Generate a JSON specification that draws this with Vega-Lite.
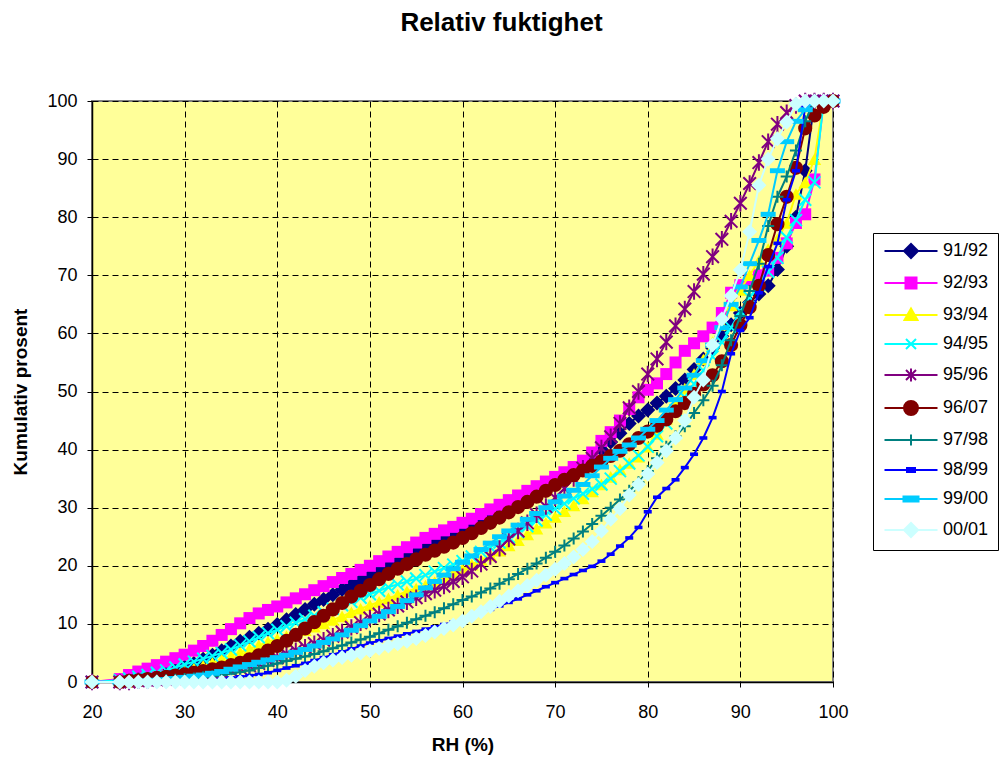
{
  "$schema": "https://vega.github.io/schema/vega-lite/v6.json",
  "width": 741,
  "height": 581,
  "autosize": "none",
  "padding": {"left": 92, "top": 101, "right": 170, "bottom": 78},
  "background": "white",
  "title": {
    "text": "Relativ fuktighet",
    "font": "Liberation Sans",
    "fontSize": 26,
    "fontWeight": "bold",
    "color": "#000000",
    "anchor": "middle",
    "frame": "group",
    "dx": 39,
    "offset": 53
  },
  "config": {
    "font": "Liberation Sans",
    "view": {"fill": "#FFFF99", "stroke": "#808080", "strokeWidth": 2},
    "axis": {
      "grid": true,
      "gridColor": "#000000",
      "gridDash": [6, 4],
      "gridOpacity": 1,
      "gridWidth": 1,
      "domainColor": "#000000",
      "domainWidth": 1.5,
      "tickColor": "#000000",
      "tickSize": 5,
      "tickWidth": 1,
      "labelColor": "#000000",
      "labelFont": "Liberation Sans",
      "labelFontSize": 18,
      "titleColor": "#000000",
      "titleFont": "Liberation Sans",
      "titleFontSize": 19,
      "titleFontWeight": "bold",
      "labelFlush": false,
      "labelOverlap": false
    }
  },
  "data": {
    "values": [
      {"s":"91/92","x":20,"y":0},{"s":"91/92","x":23,"y":0},{"s":"91/92","x":24,"y":0.2},{"s":"91/92","x":25,"y":0.4},{"s":"91/92","x":26,"y":0.7},{"s":"91/92","x":27,"y":1},{"s":"91/92","x":28,"y":1.5},{"s":"91/92","x":29,"y":2},{"s":"91/92","x":30,"y":2.6},{"s":"91/92","x":31,"y":3.2},{"s":"91/92","x":32,"y":3.9},{"s":"91/92","x":33,"y":4.6},{"s":"91/92","x":34,"y":5.4},{"s":"91/92","x":35,"y":6.2},{"s":"91/92","x":36,"y":7},{"s":"91/92","x":37,"y":7.7},{"s":"91/92","x":38,"y":8.4},{"s":"91/92","x":39,"y":9.1},{"s":"91/92","x":40,"y":9.9},{"s":"91/92","x":41,"y":10.7},{"s":"91/92","x":42,"y":11.6},{"s":"91/92","x":43,"y":12.5},{"s":"91/92","x":44,"y":13.4},{"s":"91/92","x":45,"y":14.2},{"s":"91/92","x":46,"y":15},{"s":"91/92","x":47,"y":15.9},{"s":"91/92","x":48,"y":16.7},{"s":"91/92","x":49,"y":17.5},{"s":"91/92","x":50,"y":18.3},{"s":"91/92","x":51,"y":19.1},{"s":"91/92","x":52,"y":19.9},{"s":"91/92","x":53,"y":20.7},{"s":"91/92","x":54,"y":21.5},{"s":"91/92","x":55,"y":22.3},{"s":"91/92","x":56,"y":23.1},{"s":"91/92","x":57,"y":23.9},{"s":"91/92","x":58,"y":24.7},{"s":"91/92","x":59,"y":25.4},{"s":"91/92","x":60,"y":26},{"s":"91/92","x":61,"y":26.7},{"s":"91/92","x":62,"y":27.4},{"s":"91/92","x":63,"y":28.2},{"s":"91/92","x":64,"y":29},{"s":"91/92","x":65,"y":29.8},{"s":"91/92","x":66,"y":30.6},{"s":"91/92","x":67,"y":31.5},{"s":"91/92","x":68,"y":32.5},{"s":"91/92","x":69,"y":33.5},{"s":"91/92","x":70,"y":34.5},{"s":"91/92","x":71,"y":35.5},{"s":"91/92","x":72,"y":36.5},{"s":"91/92","x":73,"y":37.6},{"s":"91/92","x":74,"y":38.8},{"s":"91/92","x":75,"y":40},{"s":"91/92","x":76,"y":41.3},{"s":"91/92","x":77,"y":42.8},{"s":"91/92","x":78,"y":44.5},{"s":"91/92","x":79,"y":45.8},{"s":"91/92","x":80,"y":46.8},{"s":"91/92","x":81,"y":48},{"s":"91/92","x":82,"y":49.2},{"s":"91/92","x":83,"y":50.5},{"s":"91/92","x":84,"y":52},{"s":"91/92","x":85,"y":53.8},{"s":"91/92","x":86,"y":55.6},{"s":"91/92","x":87,"y":57.5},{"s":"91/92","x":88,"y":59.5},{"s":"91/92","x":89,"y":61.5},{"s":"91/92","x":90,"y":63.5},{"s":"91/92","x":91,"y":65.3},{"s":"91/92","x":92,"y":66.8},{"s":"91/92","x":93,"y":68.2},{"s":"91/92","x":94,"y":71},{"s":"91/92","x":95,"y":75},{"s":"91/92","x":96,"y":80},{"s":"91/92","x":97,"y":88},{"s":"91/92","x":98,"y":100},{"s":"91/92","x":99,"y":100},{"s":"91/92","x":100,"y":100},

      {"s":"92/93","x":20,"y":0},{"s":"92/93","x":23,"y":0.5},{"s":"92/93","x":24,"y":1.2},{"s":"92/93","x":25,"y":1.8},{"s":"92/93","x":26,"y":2.3},{"s":"92/93","x":27,"y":2.9},{"s":"92/93","x":28,"y":3.5},{"s":"92/93","x":29,"y":4.1},{"s":"92/93","x":30,"y":4.7},{"s":"92/93","x":31,"y":5.4},{"s":"92/93","x":32,"y":6.2},{"s":"92/93","x":33,"y":7.1},{"s":"92/93","x":34,"y":8.1},{"s":"92/93","x":35,"y":9.1},{"s":"92/93","x":36,"y":10.1},{"s":"92/93","x":37,"y":11},{"s":"92/93","x":38,"y":11.8},{"s":"92/93","x":39,"y":12.4},{"s":"92/93","x":40,"y":13},{"s":"92/93","x":41,"y":13.7},{"s":"92/93","x":42,"y":14.4},{"s":"92/93","x":43,"y":15.1},{"s":"92/93","x":44,"y":15.8},{"s":"92/93","x":45,"y":16.5},{"s":"92/93","x":46,"y":17.2},{"s":"92/93","x":47,"y":17.9},{"s":"92/93","x":48,"y":18.6},{"s":"92/93","x":49,"y":19.3},{"s":"92/93","x":50,"y":20},{"s":"92/93","x":51,"y":20.8},{"s":"92/93","x":52,"y":21.6},{"s":"92/93","x":53,"y":22.4},{"s":"92/93","x":54,"y":23.2},{"s":"92/93","x":55,"y":24},{"s":"92/93","x":56,"y":24.8},{"s":"92/93","x":57,"y":25.5},{"s":"92/93","x":58,"y":26.1},{"s":"92/93","x":59,"y":26.7},{"s":"92/93","x":60,"y":27.4},{"s":"92/93","x":61,"y":28.1},{"s":"92/93","x":62,"y":28.9},{"s":"92/93","x":63,"y":29.7},{"s":"92/93","x":64,"y":30.5},{"s":"92/93","x":65,"y":31.3},{"s":"92/93","x":66,"y":32.1},{"s":"92/93","x":67,"y":32.9},{"s":"92/93","x":68,"y":33.7},{"s":"92/93","x":69,"y":34.5},{"s":"92/93","x":70,"y":35.3},{"s":"92/93","x":71,"y":36.1},{"s":"92/93","x":72,"y":37},{"s":"92/93","x":73,"y":38.1},{"s":"92/93","x":74,"y":39.5},{"s":"92/93","x":75,"y":41.5},{"s":"92/93","x":76,"y":43},{"s":"92/93","x":77,"y":45},{"s":"92/93","x":78,"y":47},{"s":"92/93","x":79,"y":49},{"s":"92/93","x":80,"y":50.3},{"s":"92/93","x":81,"y":51.4},{"s":"92/93","x":82,"y":53},{"s":"92/93","x":83,"y":55},{"s":"92/93","x":84,"y":57},{"s":"92/93","x":85,"y":58.3},{"s":"92/93","x":86,"y":59.5},{"s":"92/93","x":87,"y":61},{"s":"92/93","x":88,"y":63.5},{"s":"92/93","x":89,"y":67},{"s":"92/93","x":90,"y":68.3},{"s":"92/93","x":91,"y":69.2},{"s":"92/93","x":92,"y":70},{"s":"92/93","x":93,"y":70.8},{"s":"92/93","x":94,"y":73},{"s":"92/93","x":95,"y":75.5},{"s":"92/93","x":96,"y":79},{"s":"92/93","x":97,"y":80.5},{"s":"92/93","x":98,"y":86.5},{"s":"92/93","x":99,"y":100},{"s":"92/93","x":100,"y":100},

      {"s":"93/94","x":20,"y":0},{"s":"93/94","x":23,"y":0},{"s":"93/94","x":24,"y":0},{"s":"93/94","x":25,"y":0.2},{"s":"93/94","x":26,"y":0.4},{"s":"93/94","x":27,"y":0.7},{"s":"93/94","x":28,"y":1},{"s":"93/94","x":29,"y":1.4},{"s":"93/94","x":30,"y":1.8},{"s":"93/94","x":31,"y":2.3},{"s":"93/94","x":32,"y":2.8},{"s":"93/94","x":33,"y":3.3},{"s":"93/94","x":34,"y":3.9},{"s":"93/94","x":35,"y":4.5},{"s":"93/94","x":36,"y":5.1},{"s":"93/94","x":37,"y":5.7},{"s":"93/94","x":38,"y":6.3},{"s":"93/94","x":39,"y":6.9},{"s":"93/94","x":40,"y":7.4},{"s":"93/94","x":41,"y":7.9},{"s":"93/94","x":42,"y":8.4},{"s":"93/94","x":43,"y":8.9},{"s":"93/94","x":44,"y":9.5},{"s":"93/94","x":45,"y":10.1},{"s":"93/94","x":46,"y":10.7},{"s":"93/94","x":47,"y":11.3},{"s":"93/94","x":48,"y":12},{"s":"93/94","x":49,"y":12.6},{"s":"93/94","x":50,"y":13.2},{"s":"93/94","x":51,"y":13.8},{"s":"93/94","x":52,"y":14.4},{"s":"93/94","x":53,"y":15},{"s":"93/94","x":54,"y":15.6},{"s":"93/94","x":55,"y":16.1},{"s":"93/94","x":56,"y":16.6},{"s":"93/94","x":57,"y":17.2},{"s":"93/94","x":58,"y":17.9},{"s":"93/94","x":59,"y":18.6},{"s":"93/94","x":60,"y":19.4},{"s":"93/94","x":61,"y":20.2},{"s":"93/94","x":62,"y":21},{"s":"93/94","x":63,"y":21.8},{"s":"93/94","x":64,"y":22.6},{"s":"93/94","x":65,"y":23.5},{"s":"93/94","x":66,"y":24.4},{"s":"93/94","x":67,"y":25.4},{"s":"93/94","x":68,"y":26.4},{"s":"93/94","x":69,"y":27.4},{"s":"93/94","x":70,"y":28.4},{"s":"93/94","x":71,"y":29.4},{"s":"93/94","x":72,"y":30.4},{"s":"93/94","x":73,"y":31.6},{"s":"93/94","x":74,"y":32.8},{"s":"93/94","x":75,"y":34},{"s":"93/94","x":76,"y":35.3},{"s":"93/94","x":77,"y":36.6},{"s":"93/94","x":78,"y":37.7},{"s":"93/94","x":79,"y":38.8},{"s":"93/94","x":80,"y":40.5},{"s":"93/94","x":81,"y":42.7},{"s":"93/94","x":82,"y":45.3},{"s":"93/94","x":83,"y":48},{"s":"93/94","x":84,"y":50.5},{"s":"93/94","x":85,"y":53},{"s":"93/94","x":86,"y":55.5},{"s":"93/94","x":87,"y":58.5},{"s":"93/94","x":88,"y":61.5},{"s":"93/94","x":89,"y":64.8},{"s":"93/94","x":90,"y":67.5},{"s":"93/94","x":91,"y":70},{"s":"93/94","x":92,"y":72.5},{"s":"93/94","x":93,"y":74.5},{"s":"93/94","x":94,"y":76.2},{"s":"93/94","x":95,"y":79},{"s":"93/94","x":96,"y":84},{"s":"93/94","x":97,"y":86},{"s":"93/94","x":98,"y":90},{"s":"93/94","x":99,"y":100},{"s":"93/94","x":100,"y":100},

      {"s":"94/95","x":20,"y":0},{"s":"94/95","x":23,"y":0.3},{"s":"94/95","x":24,"y":0.6},{"s":"94/95","x":25,"y":0.9},{"s":"94/95","x":26,"y":1.2},{"s":"94/95","x":27,"y":1.6},{"s":"94/95","x":28,"y":2},{"s":"94/95","x":29,"y":2.5},{"s":"94/95","x":30,"y":3},{"s":"94/95","x":31,"y":3.5},{"s":"94/95","x":32,"y":4},{"s":"94/95","x":33,"y":4.5},{"s":"94/95","x":34,"y":5},{"s":"94/95","x":35,"y":5.6},{"s":"94/95","x":36,"y":6.3},{"s":"94/95","x":37,"y":7},{"s":"94/95","x":38,"y":7.7},{"s":"94/95","x":39,"y":8.4},{"s":"94/95","x":40,"y":9},{"s":"94/95","x":41,"y":9.6},{"s":"94/95","x":42,"y":10.2},{"s":"94/95","x":43,"y":10.8},{"s":"94/95","x":44,"y":11.4},{"s":"94/95","x":45,"y":12},{"s":"94/95","x":46,"y":12.6},{"s":"94/95","x":47,"y":13.2},{"s":"94/95","x":48,"y":13.8},{"s":"94/95","x":49,"y":14.5},{"s":"94/95","x":50,"y":15.1},{"s":"94/95","x":51,"y":15.7},{"s":"94/95","x":52,"y":16.3},{"s":"94/95","x":53,"y":16.8},{"s":"94/95","x":54,"y":17.3},{"s":"94/95","x":55,"y":17.8},{"s":"94/95","x":56,"y":18.4},{"s":"94/95","x":57,"y":19},{"s":"94/95","x":58,"y":19.6},{"s":"94/95","x":59,"y":20.2},{"s":"94/95","x":60,"y":20.8},{"s":"94/95","x":61,"y":21.6},{"s":"94/95","x":62,"y":22.4},{"s":"94/95","x":63,"y":23.2},{"s":"94/95","x":64,"y":24},{"s":"94/95","x":65,"y":24.9},{"s":"94/95","x":66,"y":25.8},{"s":"94/95","x":67,"y":26.8},{"s":"94/95","x":68,"y":27.8},{"s":"94/95","x":69,"y":28.8},{"s":"94/95","x":70,"y":29.8},{"s":"94/95","x":71,"y":30.7},{"s":"94/95","x":72,"y":31.6},{"s":"94/95","x":73,"y":32.4},{"s":"94/95","x":74,"y":33.2},{"s":"94/95","x":75,"y":34},{"s":"94/95","x":76,"y":35},{"s":"94/95","x":77,"y":36.3},{"s":"94/95","x":78,"y":37.6},{"s":"94/95","x":79,"y":39},{"s":"94/95","x":80,"y":40.5},{"s":"94/95","x":81,"y":42.3},{"s":"94/95","x":82,"y":44.5},{"s":"94/95","x":83,"y":46.8},{"s":"94/95","x":84,"y":49},{"s":"94/95","x":85,"y":51.3},{"s":"94/95","x":86,"y":53.6},{"s":"94/95","x":87,"y":56},{"s":"94/95","x":88,"y":58.5},{"s":"94/95","x":89,"y":61},{"s":"94/95","x":90,"y":63.8},{"s":"94/95","x":91,"y":66.2},{"s":"94/95","x":92,"y":68.4},{"s":"94/95","x":93,"y":70.6},{"s":"94/95","x":94,"y":73},{"s":"94/95","x":95,"y":76.5},{"s":"94/95","x":96,"y":79.5},{"s":"94/95","x":97,"y":83},{"s":"94/95","x":98,"y":86},{"s":"94/95","x":99,"y":100},{"s":"94/95","x":100,"y":100},

      {"s":"95/96","x":20,"y":0},{"s":"95/96","x":23,"y":0},{"s":"95/96","x":24,"y":0},{"s":"95/96","x":25,"y":0.2},{"s":"95/96","x":26,"y":0.3},{"s":"95/96","x":27,"y":0.4},{"s":"95/96","x":28,"y":0.5},{"s":"95/96","x":29,"y":0.6},{"s":"95/96","x":30,"y":0.8},{"s":"95/96","x":31,"y":1},{"s":"95/96","x":32,"y":1.2},{"s":"95/96","x":33,"y":1.4},{"s":"95/96","x":34,"y":1.7},{"s":"95/96","x":35,"y":2},{"s":"95/96","x":36,"y":2.4},{"s":"95/96","x":37,"y":2.8},{"s":"95/96","x":38,"y":3.2},{"s":"95/96","x":39,"y":3.7},{"s":"95/96","x":40,"y":4.2},{"s":"95/96","x":41,"y":4.8},{"s":"95/96","x":42,"y":5.4},{"s":"95/96","x":43,"y":6},{"s":"95/96","x":44,"y":6.6},{"s":"95/96","x":45,"y":7.2},{"s":"95/96","x":46,"y":7.9},{"s":"95/96","x":47,"y":8.6},{"s":"95/96","x":48,"y":9.4},{"s":"95/96","x":49,"y":10.2},{"s":"95/96","x":50,"y":11},{"s":"95/96","x":51,"y":11.7},{"s":"95/96","x":52,"y":12.4},{"s":"95/96","x":53,"y":13.1},{"s":"95/96","x":54,"y":13.8},{"s":"95/96","x":55,"y":14.5},{"s":"95/96","x":56,"y":15.2},{"s":"95/96","x":57,"y":15.8},{"s":"95/96","x":58,"y":16.5},{"s":"95/96","x":59,"y":17.3},{"s":"95/96","x":60,"y":18.1},{"s":"95/96","x":61,"y":19.1},{"s":"95/96","x":62,"y":20.3},{"s":"95/96","x":63,"y":21.6},{"s":"95/96","x":64,"y":23},{"s":"95/96","x":65,"y":24.6},{"s":"95/96","x":66,"y":26},{"s":"95/96","x":67,"y":27.4},{"s":"95/96","x":68,"y":28.8},{"s":"95/96","x":69,"y":30.2},{"s":"95/96","x":70,"y":31.7},{"s":"95/96","x":71,"y":33.3},{"s":"95/96","x":72,"y":35},{"s":"95/96","x":73,"y":36.8},{"s":"95/96","x":74,"y":38.5},{"s":"95/96","x":75,"y":40.3},{"s":"95/96","x":76,"y":42.2},{"s":"95/96","x":77,"y":44.5},{"s":"95/96","x":78,"y":47.2},{"s":"95/96","x":79,"y":50},{"s":"95/96","x":80,"y":53},{"s":"95/96","x":81,"y":55.6},{"s":"95/96","x":82,"y":58.5},{"s":"95/96","x":83,"y":61.3},{"s":"95/96","x":84,"y":64.2},{"s":"95/96","x":85,"y":67.2},{"s":"95/96","x":86,"y":70.2},{"s":"95/96","x":87,"y":73.2},{"s":"95/96","x":88,"y":76.2},{"s":"95/96","x":89,"y":79.3},{"s":"95/96","x":90,"y":82.4},{"s":"95/96","x":91,"y":85.8},{"s":"95/96","x":92,"y":89.4},{"s":"95/96","x":93,"y":93},{"s":"95/96","x":94,"y":96},{"s":"95/96","x":95,"y":98},{"s":"95/96","x":96,"y":99.2},{"s":"95/96","x":97,"y":100},{"s":"95/96","x":98,"y":100},{"s":"95/96","x":99,"y":100},{"s":"95/96","x":100,"y":100},

      {"s":"96/07","x":20,"y":0},{"s":"96/07","x":23,"y":0},{"s":"96/07","x":24,"y":0.2},{"s":"96/07","x":25,"y":0.3},{"s":"96/07","x":26,"y":0.5},{"s":"96/07","x":27,"y":0.7},{"s":"96/07","x":28,"y":0.9},{"s":"96/07","x":29,"y":1.1},{"s":"96/07","x":30,"y":1.3},{"s":"96/07","x":31,"y":1.6},{"s":"96/07","x":32,"y":1.9},{"s":"96/07","x":33,"y":2.2},{"s":"96/07","x":34,"y":2.5},{"s":"96/07","x":35,"y":2.9},{"s":"96/07","x":36,"y":3.3},{"s":"96/07","x":37,"y":3.9},{"s":"96/07","x":38,"y":4.6},{"s":"96/07","x":39,"y":5.4},{"s":"96/07","x":40,"y":6.2},{"s":"96/07","x":41,"y":7.1},{"s":"96/07","x":42,"y":8.1},{"s":"96/07","x":43,"y":9.2},{"s":"96/07","x":44,"y":10.3},{"s":"96/07","x":45,"y":11.4},{"s":"96/07","x":46,"y":12.5},{"s":"96/07","x":47,"y":13.6},{"s":"96/07","x":48,"y":14.7},{"s":"96/07","x":49,"y":15.7},{"s":"96/07","x":50,"y":16.7},{"s":"96/07","x":51,"y":17.7},{"s":"96/07","x":52,"y":18.6},{"s":"96/07","x":53,"y":19.5},{"s":"96/07","x":54,"y":20.3},{"s":"96/07","x":55,"y":21.1},{"s":"96/07","x":56,"y":21.9},{"s":"96/07","x":57,"y":22.6},{"s":"96/07","x":58,"y":23.3},{"s":"96/07","x":59,"y":24},{"s":"96/07","x":60,"y":24.8},{"s":"96/07","x":61,"y":25.6},{"s":"96/07","x":62,"y":26.5},{"s":"96/07","x":63,"y":27.4},{"s":"96/07","x":64,"y":28.3},{"s":"96/07","x":65,"y":29.2},{"s":"96/07","x":66,"y":30.1},{"s":"96/07","x":67,"y":31},{"s":"96/07","x":68,"y":31.9},{"s":"96/07","x":69,"y":32.9},{"s":"96/07","x":70,"y":33.9},{"s":"96/07","x":71,"y":34.8},{"s":"96/07","x":72,"y":35.6},{"s":"96/07","x":73,"y":36.4},{"s":"96/07","x":74,"y":37.2},{"s":"96/07","x":75,"y":38},{"s":"96/07","x":76,"y":38.9},{"s":"96/07","x":77,"y":39.8},{"s":"96/07","x":78,"y":40.9},{"s":"96/07","x":79,"y":42},{"s":"96/07","x":80,"y":43.1},{"s":"96/07","x":81,"y":44.1},{"s":"96/07","x":82,"y":45.2},{"s":"96/07","x":83,"y":46.6},{"s":"96/07","x":84,"y":48},{"s":"96/07","x":85,"y":49.6},{"s":"96/07","x":86,"y":51.2},{"s":"96/07","x":87,"y":52.8},{"s":"96/07","x":88,"y":55.2},{"s":"96/07","x":89,"y":58},{"s":"96/07","x":90,"y":61.4},{"s":"96/07","x":91,"y":64.5},{"s":"96/07","x":92,"y":68.2},{"s":"96/07","x":93,"y":73.5},{"s":"96/07","x":94,"y":78.8},{"s":"96/07","x":95,"y":83.5},{"s":"96/07","x":96,"y":88.5},{"s":"96/07","x":97,"y":95.3},{"s":"96/07","x":98,"y":97.5},{"s":"96/07","x":99,"y":99},{"s":"96/07","x":100,"y":100},

      {"s":"97/98","x":20,"y":0},{"s":"97/98","x":23,"y":0},{"s":"97/98","x":24,"y":0},{"s":"97/98","x":25,"y":0},{"s":"97/98","x":26,"y":0.1},{"s":"97/98","x":27,"y":0.2},{"s":"97/98","x":28,"y":0.3},{"s":"97/98","x":29,"y":0.4},{"s":"97/98","x":30,"y":0.5},{"s":"97/98","x":31,"y":0.6},{"s":"97/98","x":32,"y":0.8},{"s":"97/98","x":33,"y":1},{"s":"97/98","x":34,"y":1.2},{"s":"97/98","x":35,"y":1.4},{"s":"97/98","x":36,"y":1.7},{"s":"97/98","x":37,"y":2},{"s":"97/98","x":38,"y":2.4},{"s":"97/98","x":39,"y":2.8},{"s":"97/98","x":40,"y":3.2},{"s":"97/98","x":41,"y":3.6},{"s":"97/98","x":42,"y":4},{"s":"97/98","x":43,"y":4.4},{"s":"97/98","x":44,"y":4.8},{"s":"97/98","x":45,"y":5.3},{"s":"97/98","x":46,"y":5.8},{"s":"97/98","x":47,"y":6.3},{"s":"97/98","x":48,"y":6.8},{"s":"97/98","x":49,"y":7.3},{"s":"97/98","x":50,"y":7.8},{"s":"97/98","x":51,"y":8.4},{"s":"97/98","x":52,"y":9},{"s":"97/98","x":53,"y":9.6},{"s":"97/98","x":54,"y":10.2},{"s":"97/98","x":55,"y":10.8},{"s":"97/98","x":56,"y":11.4},{"s":"97/98","x":57,"y":12},{"s":"97/98","x":58,"y":12.7},{"s":"97/98","x":59,"y":13.4},{"s":"97/98","x":60,"y":14.1},{"s":"97/98","x":61,"y":14.7},{"s":"97/98","x":62,"y":15.4},{"s":"97/98","x":63,"y":16.1},{"s":"97/98","x":64,"y":16.9},{"s":"97/98","x":65,"y":17.7},{"s":"97/98","x":66,"y":18.6},{"s":"97/98","x":67,"y":19.5},{"s":"97/98","x":68,"y":20.4},{"s":"97/98","x":69,"y":21.4},{"s":"97/98","x":70,"y":22.4},{"s":"97/98","x":71,"y":23.5},{"s":"97/98","x":72,"y":24.7},{"s":"97/98","x":73,"y":25.9},{"s":"97/98","x":74,"y":27.2},{"s":"97/98","x":75,"y":28.6},{"s":"97/98","x":76,"y":30},{"s":"97/98","x":77,"y":31.4},{"s":"97/98","x":78,"y":32.9},{"s":"97/98","x":79,"y":34.4},{"s":"97/98","x":80,"y":36.3},{"s":"97/98","x":81,"y":38.5},{"s":"97/98","x":82,"y":40.5},{"s":"97/98","x":83,"y":42.3},{"s":"97/98","x":84,"y":44},{"s":"97/98","x":85,"y":46.3},{"s":"97/98","x":86,"y":48.5},{"s":"97/98","x":87,"y":51},{"s":"97/98","x":88,"y":54.5},{"s":"97/98","x":89,"y":58.8},{"s":"97/98","x":90,"y":63},{"s":"97/98","x":91,"y":67.3},{"s":"97/98","x":92,"y":72},{"s":"97/98","x":93,"y":78.5},{"s":"97/98","x":94,"y":83.5},{"s":"97/98","x":95,"y":87},{"s":"97/98","x":96,"y":91.5},{"s":"97/98","x":97,"y":96.5},{"s":"97/98","x":98,"y":100},{"s":"97/98","x":99,"y":100},{"s":"97/98","x":100,"y":100},

      {"s":"98/99","x":20,"y":0},{"s":"98/99","x":23,"y":0},{"s":"98/99","x":24,"y":0},{"s":"98/99","x":25,"y":0},{"s":"98/99","x":26,"y":0},{"s":"98/99","x":27,"y":0},{"s":"98/99","x":28,"y":0},{"s":"98/99","x":29,"y":0},{"s":"98/99","x":30,"y":0},{"s":"98/99","x":31,"y":0.1},{"s":"98/99","x":32,"y":0.2},{"s":"98/99","x":33,"y":0.3},{"s":"98/99","x":34,"y":0.5},{"s":"98/99","x":35,"y":0.7},{"s":"98/99","x":36,"y":0.9},{"s":"98/99","x":37,"y":1.1},{"s":"98/99","x":38,"y":1.3},{"s":"98/99","x":39,"y":1.6},{"s":"98/99","x":40,"y":2},{"s":"98/99","x":41,"y":2.4},{"s":"98/99","x":42,"y":2.8},{"s":"98/99","x":43,"y":3.2},{"s":"98/99","x":44,"y":3.7},{"s":"98/99","x":45,"y":4.2},{"s":"98/99","x":46,"y":4.7},{"s":"98/99","x":47,"y":5.2},{"s":"98/99","x":48,"y":5.7},{"s":"98/99","x":49,"y":6.2},{"s":"98/99","x":50,"y":6.7},{"s":"98/99","x":51,"y":7.1},{"s":"98/99","x":52,"y":7.5},{"s":"98/99","x":53,"y":7.9},{"s":"98/99","x":54,"y":8.3},{"s":"98/99","x":55,"y":8.7},{"s":"98/99","x":56,"y":9.1},{"s":"98/99","x":57,"y":9.5},{"s":"98/99","x":58,"y":9.9},{"s":"98/99","x":59,"y":10.3},{"s":"98/99","x":60,"y":10.7},{"s":"98/99","x":61,"y":11.3},{"s":"98/99","x":62,"y":11.9},{"s":"98/99","x":63,"y":12.5},{"s":"98/99","x":64,"y":13.1},{"s":"98/99","x":65,"y":13.7},{"s":"98/99","x":66,"y":14.3},{"s":"98/99","x":67,"y":15},{"s":"98/99","x":68,"y":15.7},{"s":"98/99","x":69,"y":16.4},{"s":"98/99","x":70,"y":17.1},{"s":"98/99","x":71,"y":17.8},{"s":"98/99","x":72,"y":18.5},{"s":"98/99","x":73,"y":19.2},{"s":"98/99","x":74,"y":19.9},{"s":"98/99","x":75,"y":20.8},{"s":"98/99","x":76,"y":22},{"s":"98/99","x":77,"y":23.4},{"s":"98/99","x":78,"y":24.8},{"s":"98/99","x":79,"y":26.6},{"s":"98/99","x":80,"y":29.3},{"s":"98/99","x":81,"y":31.8},{"s":"98/99","x":82,"y":33.3},{"s":"98/99","x":83,"y":34.8},{"s":"98/99","x":84,"y":36.9},{"s":"98/99","x":85,"y":39.2},{"s":"98/99","x":86,"y":42},{"s":"98/99","x":87,"y":45.5},{"s":"98/99","x":88,"y":50},{"s":"98/99","x":89,"y":56.5},{"s":"98/99","x":90,"y":60.5},{"s":"98/99","x":91,"y":62.7},{"s":"98/99","x":92,"y":67},{"s":"98/99","x":93,"y":71.5},{"s":"98/99","x":94,"y":75.5},{"s":"98/99","x":95,"y":83},{"s":"98/99","x":96,"y":88},{"s":"98/99","x":97,"y":99},{"s":"98/99","x":98,"y":100},{"s":"98/99","x":99,"y":100},{"s":"98/99","x":100,"y":100},

      {"s":"99/00","x":20,"y":0},{"s":"99/00","x":23,"y":0},{"s":"99/00","x":24,"y":0},{"s":"99/00","x":25,"y":0.1},{"s":"99/00","x":26,"y":0.2},{"s":"99/00","x":27,"y":0.3},{"s":"99/00","x":28,"y":0.4},{"s":"99/00","x":29,"y":0.6},{"s":"99/00","x":30,"y":0.8},{"s":"99/00","x":31,"y":1},{"s":"99/00","x":32,"y":1.2},{"s":"99/00","x":33,"y":1.5},{"s":"99/00","x":34,"y":1.8},{"s":"99/00","x":35,"y":2.2},{"s":"99/00","x":36,"y":2.6},{"s":"99/00","x":37,"y":3},{"s":"99/00","x":38,"y":3.4},{"s":"99/00","x":39,"y":3.8},{"s":"99/00","x":40,"y":4.2},{"s":"99/00","x":41,"y":4.6},{"s":"99/00","x":42,"y":5.1},{"s":"99/00","x":43,"y":5.6},{"s":"99/00","x":44,"y":6.2},{"s":"99/00","x":45,"y":6.8},{"s":"99/00","x":46,"y":7.4},{"s":"99/00","x":47,"y":8.1},{"s":"99/00","x":48,"y":8.9},{"s":"99/00","x":49,"y":9.7},{"s":"99/00","x":50,"y":10.5},{"s":"99/00","x":51,"y":11.3},{"s":"99/00","x":52,"y":12.1},{"s":"99/00","x":53,"y":13},{"s":"99/00","x":54,"y":14},{"s":"99/00","x":55,"y":15},{"s":"99/00","x":56,"y":16.2},{"s":"99/00","x":57,"y":17.3},{"s":"99/00","x":58,"y":18.4},{"s":"99/00","x":59,"y":19.5},{"s":"99/00","x":60,"y":20.6},{"s":"99/00","x":61,"y":21.7},{"s":"99/00","x":62,"y":22.8},{"s":"99/00","x":63,"y":23.9},{"s":"99/00","x":64,"y":25},{"s":"99/00","x":65,"y":26},{"s":"99/00","x":66,"y":27},{"s":"99/00","x":67,"y":28},{"s":"99/00","x":68,"y":29},{"s":"99/00","x":69,"y":30},{"s":"99/00","x":70,"y":31},{"s":"99/00","x":71,"y":32},{"s":"99/00","x":72,"y":33},{"s":"99/00","x":73,"y":34},{"s":"99/00","x":74,"y":35.5},{"s":"99/00","x":75,"y":37},{"s":"99/00","x":76,"y":38.5},{"s":"99/00","x":77,"y":39.7},{"s":"99/00","x":78,"y":40.8},{"s":"99/00","x":79,"y":42},{"s":"99/00","x":80,"y":43.5},{"s":"99/00","x":81,"y":45},{"s":"99/00","x":82,"y":46.8},{"s":"99/00","x":83,"y":48.6},{"s":"99/00","x":84,"y":50.6},{"s":"99/00","x":85,"y":52.8},{"s":"99/00","x":86,"y":55.3},{"s":"99/00","x":87,"y":58},{"s":"99/00","x":88,"y":61},{"s":"99/00","x":89,"y":65},{"s":"99/00","x":90,"y":68},{"s":"99/00","x":91,"y":72},{"s":"99/00","x":92,"y":76},{"s":"99/00","x":93,"y":80.5},{"s":"99/00","x":94,"y":88},{"s":"99/00","x":95,"y":93},{"s":"99/00","x":96,"y":96.5},{"s":"99/00","x":97,"y":98.5},{"s":"99/00","x":98,"y":100},{"s":"99/00","x":99,"y":100},{"s":"99/00","x":100,"y":100},

      {"s":"00/01","x":20,"y":0},{"s":"00/01","x":23,"y":0},{"s":"00/01","x":24,"y":0},{"s":"00/01","x":25,"y":0},{"s":"00/01","x":26,"y":0},{"s":"00/01","x":27,"y":0},{"s":"00/01","x":28,"y":0},{"s":"00/01","x":29,"y":0},{"s":"00/01","x":30,"y":0},{"s":"00/01","x":31,"y":0},{"s":"00/01","x":32,"y":0},{"s":"00/01","x":33,"y":0},{"s":"00/01","x":34,"y":0},{"s":"00/01","x":35,"y":0},{"s":"00/01","x":36,"y":0},{"s":"00/01","x":37,"y":0},{"s":"00/01","x":38,"y":0},{"s":"00/01","x":39,"y":0},{"s":"00/01","x":40,"y":0},{"s":"00/01","x":41,"y":0.3},{"s":"00/01","x":42,"y":1},{"s":"00/01","x":43,"y":2},{"s":"00/01","x":44,"y":2.7},{"s":"00/01","x":45,"y":3.3},{"s":"00/01","x":46,"y":3.8},{"s":"00/01","x":47,"y":4.2},{"s":"00/01","x":48,"y":4.6},{"s":"00/01","x":49,"y":5},{"s":"00/01","x":50,"y":5.4},{"s":"00/01","x":51,"y":5.8},{"s":"00/01","x":52,"y":6.2},{"s":"00/01","x":53,"y":6.6},{"s":"00/01","x":54,"y":7},{"s":"00/01","x":55,"y":7.5},{"s":"00/01","x":56,"y":8},{"s":"00/01","x":57,"y":8.6},{"s":"00/01","x":58,"y":9.2},{"s":"00/01","x":59,"y":9.8},{"s":"00/01","x":60,"y":10.5},{"s":"00/01","x":61,"y":11.3},{"s":"00/01","x":62,"y":12.1},{"s":"00/01","x":63,"y":13},{"s":"00/01","x":64,"y":13.9},{"s":"00/01","x":65,"y":14.8},{"s":"00/01","x":66,"y":15.7},{"s":"00/01","x":67,"y":16.6},{"s":"00/01","x":68,"y":17.5},{"s":"00/01","x":69,"y":18.4},{"s":"00/01","x":70,"y":19.4},{"s":"00/01","x":71,"y":20.4},{"s":"00/01","x":72,"y":21.5},{"s":"00/01","x":73,"y":22.8},{"s":"00/01","x":74,"y":24.2},{"s":"00/01","x":75,"y":26},{"s":"00/01","x":76,"y":28},{"s":"00/01","x":77,"y":29.8},{"s":"00/01","x":78,"y":32.2},{"s":"00/01","x":79,"y":34},{"s":"00/01","x":80,"y":35.8},{"s":"00/01","x":81,"y":37.8},{"s":"00/01","x":82,"y":39.8},{"s":"00/01","x":83,"y":42},{"s":"00/01","x":84,"y":45},{"s":"00/01","x":85,"y":49},{"s":"00/01","x":86,"y":52},{"s":"00/01","x":87,"y":58},{"s":"00/01","x":88,"y":62.5},{"s":"00/01","x":89,"y":66.5},{"s":"00/01","x":90,"y":70.9},{"s":"00/01","x":91,"y":77.5},{"s":"00/01","x":92,"y":85.5},{"s":"00/01","x":93,"y":90},{"s":"00/01","x":94,"y":93.5},{"s":"00/01","x":95,"y":96.4},{"s":"00/01","x":96,"y":99.5},{"s":"00/01","x":97,"y":100},{"s":"00/01","x":98,"y":100},{"s":"00/01","x":99,"y":100},{"s":"00/01","x":100,"y":100}
    ]
  },
  "encoding": {
    "x": {
      "field": "x",
      "type": "quantitative",
      "scale": {"domain": [20, 100], "nice": false, "zero": false},
      "axis": {"values": [20, 30, 40, 50, 60, 70, 80, 90, 100], "title": "RH (%)", "labelPadding": 16, "titlePadding": 14}
    },
    "y": {
      "field": "y",
      "type": "quantitative",
      "scale": {"domain": [0, 100], "nice": false},
      "axis": {"values": [0, 10, 20, 30, 40, 50, 60, 70, 80, 90, 100], "title": "Kumulativ prosent", "labelPadding": 10, "titlePadding": 16}
    },
    "color": {
      "field": "s",
      "type": "nominal",
      "scale": {
        "domain": ["91/92", "92/93", "93/94", "94/95", "95/96", "96/07", "97/98", "98/99", "99/00", "00/01"],
        "range": ["#000080", "#FF00FF", "#FFFF00", "#00FFFF", "#800080", "#800000", "#008080", "#0000FF", "#00CCFF", "#CCFFFF"]
      },
      "legend": {
        "title": null,
        "orient": "none",
        "legendX": 781,
        "legendY": 132,
        "padding": 9,
        "strokeColor": "#000000",
        "fillColor": "#FFFFFF",
        "symbolSize": 100,
        "symbolStrokeWidth": 2,
        "symbolOffset": 20,
        "labelOffset": 23,
        "rowPadding": 11,
        "labelFont": "Liberation Sans",
        "labelFontSize": 18,
        "labelColor": "#000000",
        "encode": {
          "symbols": {
            "update": {
              "shape": {"signal": "datum.value==='91/92'?'M-5.3,0L5.3,0M-1.4,0L0,-1.4L1.4,0L0,1.4Z':datum.value==='92/93'?'M-5.3,0L5.3,0M-1.1,-1.1L1.1,-1.1L1.1,1.1L-1.1,1.1Z':datum.value==='93/94'?'M-5.3,0L5.3,0M0,-1.3L1.3,1L-1.3,1Z':datum.value==='94/95'?'M-5.3,0L5.3,0M-1,-1L1,1M-1,1L1,-1':datum.value==='95/96'?'M-5.3,0L5.3,0M-1,-1L1,1M-1,1L1,-1M0,-1.3L0,1.3':datum.value==='96/07'?'M-5.3,0L5.3,0M-1.4,0A1.4,1.4,0,1,1,1.4,0A1.4,1.4,0,1,1,-1.4,0Z':datum.value==='97/98'?'M-5.3,0L5.3,0M-1,0L1,0M0,-1.1L0,1.1':datum.value==='98/99'?'M-5.3,0L5.3,0M-0.8,-0.4L0.8,-0.4L0.8,0.4L-0.8,0.4Z':datum.value==='99/00'?'M-5.3,0L5.3,0M-1.5,-0.5L1.5,-0.5L1.5,0.5L-1.5,0.5Z':'M-5.3,0L5.3,0M-1.4,0L0,-1.4L1.4,0L0,1.4Z'"},
              "fill": {"signal": "scale('color', datum.value)"},
              "stroke": {"signal": "scale('color', datum.value)"},
              "opacity": {"value": 1},
              "fillOpacity": {"value": 1},
              "strokeOpacity": {"value": 1}
            }
          }
        }
      }
    }
  },
  "layer": [
    {"transform": [{"filter": {"field": "s", "equal": "91/92"}}], "mark": {"type": "line", "strokeWidth": 2, "point": {"filled": true, "shape": "diamond", "size": 225, "opacity": 1}}},
    {"transform": [{"filter": {"field": "s", "equal": "92/93"}}], "mark": {"type": "line", "strokeWidth": 2, "point": {"filled": true, "shape": "square", "size": 144, "opacity": 1}}},
    {"transform": [{"filter": {"field": "s", "equal": "93/94"}}], "mark": {"type": "line", "strokeWidth": 2, "point": {"filled": true, "shape": "triangle-up", "size": 180, "opacity": 1}}},
    {"transform": [{"filter": {"field": "s", "equal": "94/95"}}], "mark": {"type": "line", "strokeWidth": 2, "point": {"filled": false, "shape": "M-1,-1L1,1M-1,1L1,-1", "size": 144, "strokeWidth": 2, "opacity": 1}}},
    {"transform": [{"filter": {"field": "s", "equal": "95/96"}}], "mark": {"type": "line", "strokeWidth": 2, "point": {"filled": false, "shape": "M-1,-1L1,1M-1,1L1,-1M0,-1.3L0,1.3", "size": 160, "strokeWidth": 2, "opacity": 1}}},
    {"transform": [{"filter": {"field": "s", "equal": "96/07"}}], "mark": {"type": "line", "strokeWidth": 2, "point": {"filled": true, "shape": "circle", "size": 200, "opacity": 1}}},
    {"transform": [{"filter": {"field": "s", "equal": "97/98"}}], "mark": {"type": "line", "strokeWidth": 2, "point": {"filled": false, "shape": "M-1,0L1,0M0,-1L0,1", "size": 144, "strokeWidth": 2, "opacity": 1}}},
    {"transform": [{"filter": {"field": "s", "equal": "98/99"}}], "mark": {"type": "line", "strokeWidth": 2, "point": {"filled": true, "shape": "M-1,-0.45L1,-0.45L1,0.45L-1,0.45Z", "size": 64, "opacity": 1}}},
    {"transform": [{"filter": {"field": "s", "equal": "99/00"}}], "mark": {"type": "line", "strokeWidth": 2, "point": {"filled": true, "shape": "M-1,-0.33L1,-0.33L1,0.33L-1,0.33Z", "size": 225, "opacity": 1}}},
    {"transform": [{"filter": {"field": "s", "equal": "00/01"}}], "mark": {"type": "line", "strokeWidth": 2, "point": {"filled": true, "shape": "diamond", "size": 225, "opacity": 1}}}
  ]
}
